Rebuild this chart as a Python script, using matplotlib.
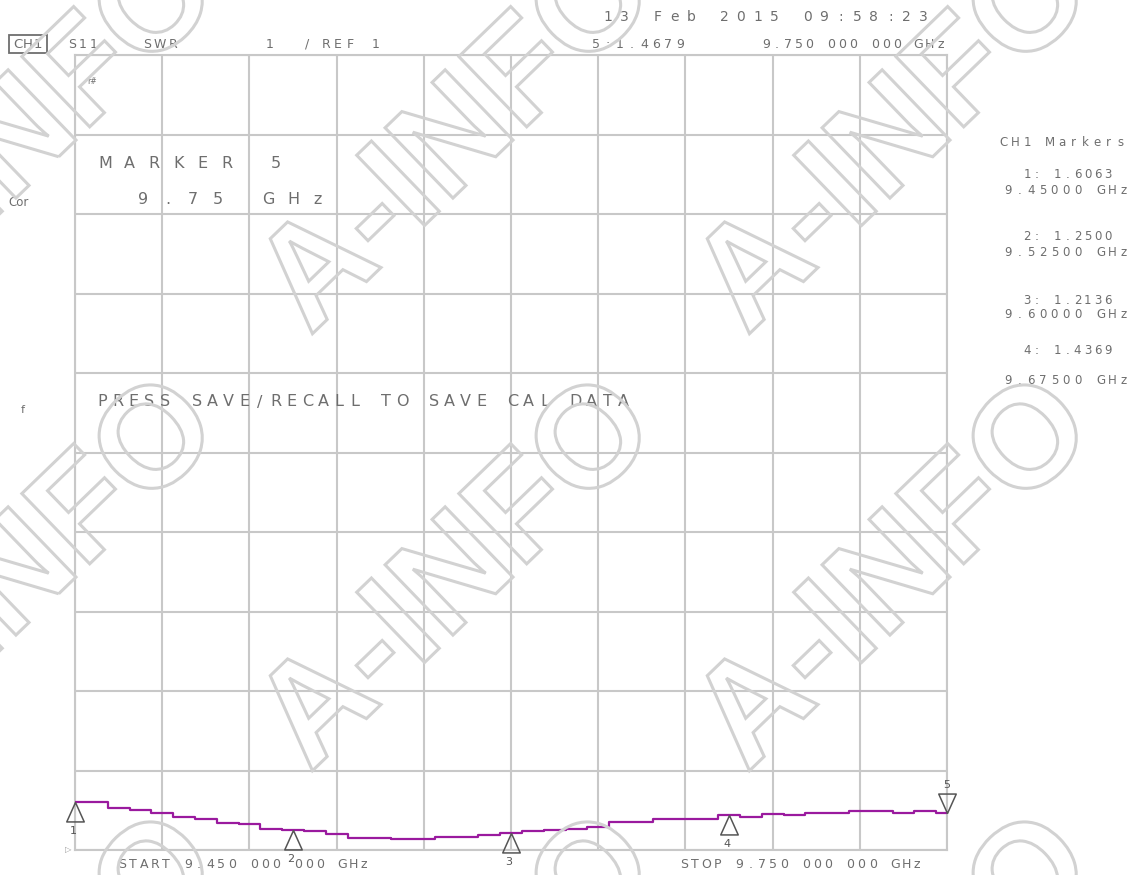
import matplotlib.pyplot as plt
import numpy as np
from matplotlib.textpath import TextPath
from matplotlib.patches import PathPatch, Rectangle
from matplotlib.font_manager import FontProperties
from matplotlib.transforms import Affine2D

W, H = 1128, 875

# sweep 9.45 .. 9.75 GHz, SWR
start_ghz, stop_ghz = 9.45, 9.75
freq_ghz = np.linspace(start_ghz, stop_ghz, 41)
swr = [1.607, 1.600, 1.532, 1.503, 1.470, 1.420, 1.386, 1.344, 1.330, 1.270,
       1.250, 1.240, 1.200, 1.155, 1.155, 1.135, 1.135, 1.160, 1.160, 1.193,
       1.214, 1.243, 1.250, 1.264, 1.293, 1.348, 1.348, 1.390, 1.390, 1.390,
       1.437, 1.420, 1.453, 1.436, 1.470, 1.470, 1.490, 1.490, 1.470, 1.490,
       1.468]

# markers
mk_freq = [9.45, 9.525, 9.60, 9.675, 9.75]
mk_swr = [1.6063, 1.2500, 1.2136, 1.4369, 1.4679]
mk_names = ['1', '2', '3', '4', '5']

GRID = '#c8c8c8'
TXT = '#6e6e6e'
TRACE = '#9a1a9e'

fig = plt.figure(figsize=(W / 100, H / 100), dpi=100)
fig.patch.set_facecolor('white')

ax = fig.add_axes([75 / W, 25 / H, 872 / W, 795 / H])
ax.set_xlim(start_ghz, stop_ghz)
ax.set_ylim(1, 11)
ax.set_xticks(np.linspace(start_ghz, stop_ghz, 11))
ax.set_yticks(np.arange(1, 12))
ax.grid(True, color=GRID, lw=1.5)
ax.tick_params(length=0, labelbottom=False, labelleft=False)
for s in ax.spines.values():
    s.set_color(GRID)
    s.set_linewidth(1.5)

ax.plot(freq_ghz, swr, color=TRACE, lw=1.6, drawstyle='steps-mid', zorder=3)

# marker triangles (tip sits on the trace)
up = [(0, 0), (-0.45, -1), (0.45, -1), (0, 0)]
down = [(0, 0), (-0.45, 1), (0.45, 1), (0, 0)]
for f, v, n in zip(mk_freq, mk_swr, mk_names):
    if n == '5':
        ax.plot(f, v, marker=down, ms=28, mfc='none', mec='#555555', mew=1.1,
                clip_on=False, zorder=4)
        ax.annotate(n, (f, v), xytext=(0, 28), textcoords='offset pixels',
                    ha='center', va='center', fontsize=8, color='#555555',
                    annotation_clip=False)
    else:
        ax.plot(f, v, marker=up, ms=28, mfc='none', mec='#555555', mew=1.1,
                clip_on=False, zorder=4)
        ax.annotate(n, (f, v), xytext=(-2, -29), textcoords='offset pixels',
                    ha='center', va='center', fontsize=8, color='#555555',
                    annotation_clip=False)


def mono(x0, y, s, pitch, size=9, color=TXT):
    # instrument style: each character on a fixed pitch
    for i, ch in enumerate(s):
        if ch == ' ':
            continue
        fig.text((x0 + i * pitch) / W, 1 - y / H, ch, ha='center', va='center',
                 fontsize=size, color=color)


# header
fig.add_artist(Rectangle((9 / W, 1 - 53 / H), 38 / W, 18 / H, transform=fig.transFigure,
                         fc='none', ec=TXT, lw=1.3))
mono(18, 44, 'CH1', 10, size=9.5)
mono(72, 44, 'S11', 11)
mono(147, 44, 'SWR', 13)
mono(270, 44, '1', 10)
mono(307, 44, '/', 10)
mono(326, 44, 'REF', 12)
mono(376, 44, '1', 10)
mono(608, 17, '13 Feb 2015 09:58:23', 16.6, size=10)
mono(596, 45, '5:1.4679', 12)
mono(766, 45, '9.750 000 000 GHz', 10.9)

# side labels
fig.text(8 / W, 1 - 203 / H, 'Cor', ha='left', va='center', fontsize=8.5, color=TXT)
fig.text(23 / W, 1 - 410 / H, 'f', ha='center', va='center', fontsize=8, color=TXT)
fig.text(92 / W, 1 - 81 / H, 'r#', ha='center', va='center', fontsize=5.5, color=TXT)
fig.text(68 / W, 1 - 850 / H, '\u25b7', ha='center', va='center', fontsize=6,
         color='#999999')

# screen messages
mono(105, 164, 'MARKER 5', 24.4, size=11.5)
mono(143, 199, '9.75 GHz', 25, size=11.5)
mono(102, 402, 'PRESS SAVE/RECALL TO SAVE CAL DATA', 15.8, size=11.5)

# marker table on the right
mono(1004, 143, 'CH1 Markers', 11.6, size=8.5)
table = [('1: 1.6063', '9.45000 GHz', 175, 190),
         ('2: 1.2500', '9.52500 GHz', 237, 253),
         ('3: 1.2136', '9.60000 GHz', 300, 314),
         ('4: 1.4369', '9.67500 GHz', 350, 380)]
for a, b, ya, yb in table:
    mono(1027, ya, a, 10.1, size=8.5)
    mono(1008, yb, b, 11.6, size=8.5)

# start / stop
mono(122, 865, 'START 9.450 000 000 GHz', 11, size=9)
mono(684, 865, 'STOP 9.750 000 000 GHz', 11.1, size=9)

# watermark overlay
wm = fig.add_axes([0, 0, 1, 1], zorder=5)
wm.set_xlim(0, W)
wm.set_ylim(0, H)
wm.axis('off')
wm.patch.set_alpha(0)
tp = TextPath((0, 0), 'A-INFO', size=142,
              prop=FontProperties(family='Liberation Sans', weight='bold'))
bb = tp.get_extents()
cx, cy = (bb.x0 + bb.x1) / 2, (bb.y0 + bb.y1) / 2
for X in [14, 451, 888]:
    for Y in [132, 569, 1006]:
        tr = Affine2D().translate(-cx, -cy).rotate_deg(44).translate(X, H - Y)
        wm.add_patch(PathPatch(tr.transform_path(tp), fc='none', ec='#d2d2d2', lw=2.2))

fig.savefig('out.png', dpi=100)
